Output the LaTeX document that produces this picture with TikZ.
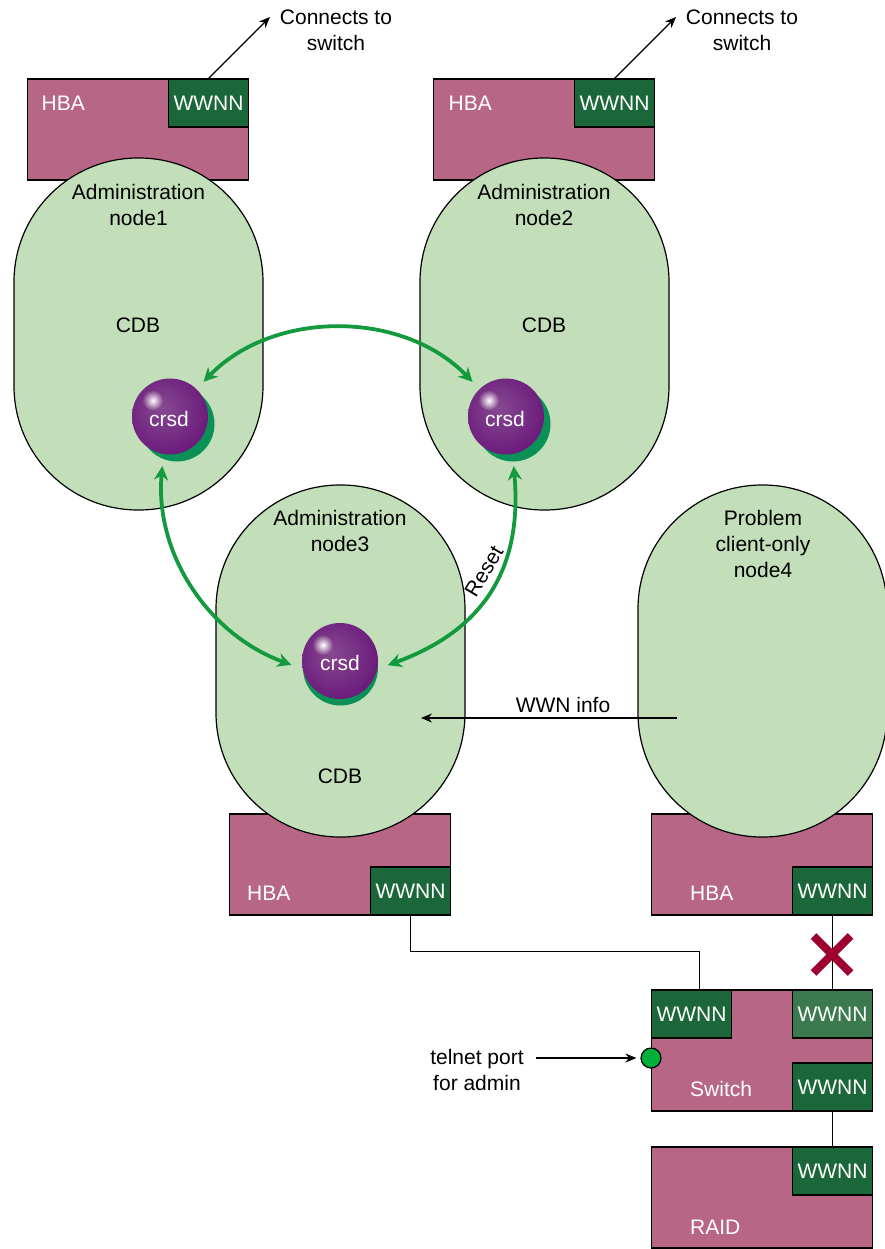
\documentclass[tikz,border=0pt]{standalone}
\usepackage{fontspec}
\setmainfont{Liberation Sans}
\usetikzlibrary{shapes.misc, arrows.meta}
\definecolor{hbapink}{HTML}{B86685}
\definecolor{wwnngreen}{HTML}{1B673A}
\definecolor{wwnnfaded}{HTML}{3B7A4F}
\definecolor{capsulegreen}{HTML}{C2DFBA}
\definecolor{arcgreen}{HTML}{149A3E}
\definecolor{shadowgreen}{HTML}{0B9058}
\definecolor{crossred}{HTML}{A00030}
\definecolor{portgreen}{HTML}{00AE3A}
\definecolor{glintedge}{rgb}{.50,.25,.54}
\pgfdeclareradialshading{crsdsphere}{\pgfpoint{-6bp}{6bp}}{rgb(0bp)=(.53,.29,.57); rgb(26bp)=(.43,.12,.49); rgb(43bp)=(.35,.01,.41); rgb(50bp)=(.50,.18,.54)}
\tikzstyle{capsule} = [rectangle, rounded corners=124pt, minimum width=249pt, minimum height=352pt, draw=black, line width=1.2pt, fill=capsulegreen, inner sep=0pt]
\tikzstyle{hbabox} = [rectangle, minimum width=221pt, minimum height=101pt, draw=black, line width=1.2pt, fill=hbapink, inner sep=0pt]
\tikzstyle{switchbox} = [hbabox, minimum height=121pt]
\tikzstyle{wwnnbox} = [rectangle, minimum width=80pt, minimum height=48pt, draw=black, line width=1.2pt, fill=wwnngreen, text=white, inner sep=0pt]
\tikzstyle{boxlabel} = [text=white, inner sep=0pt, anchor=west]
\tikzstyle{plainlabel} = [inner sep=0pt, align=center]
\tikzstyle{crsdball} = [circle, minimum size=76pt, inner sep=0pt, shading=crsdsphere, text=white]
\tikzstyle{crsdshadow} = [circle, minimum size=75pt, inner sep=0pt, fill=shadowgreen]
\tikzstyle{crsdglint} = [circle, minimum size=20pt, inner sep=0pt, inner color=white, outer color=glintedge]
\tikzstyle{arc} = [line width=3.8pt, {Stealth[length=14pt,width=14pt]}-{Stealth[length=14pt,width=14pt]}, arcgreen]
\tikzstyle{arrow} = [line width=1.2pt, -{Stealth[length=11pt,width=9pt]}]
\tikzstyle{wire} = [line width=1.2pt]
\begin{document}
\begin{tikzpicture}[x=1pt,y=1pt,node distance=200pt,every node/.style={font=\fontsize{21}{26}\selectfont}]
    \useasboundingbox (0,0) rectangle (884,-1249);

    \node (hba1) [hbabox] at (138,-129.5) {};
    \node (hba2) [hbabox, right of=hba1, xshift=206pt] {};
    \node (hba3) [hbabox] at (340,-864.5) {};
    \node (hba4) [hbabox, right of=hba3, xshift=222pt] {};
    \node (switch) [switchbox] at (762,-1050.5) {};
    \node (raid) [hbabox] at (762,-1197.5) {};

    \node (wwnn1) [wwnnbox, anchor=north east] at (hba1.north east) {WWNN};
    \node (wwnn2) [wwnnbox, anchor=north east] at (hba2.north east) {WWNN};
    \node (wwnn3) [wwnnbox, anchor=south east] at (hba3.south east) {WWNN};
    \node (wwnn4) [wwnnbox, anchor=south east] at (hba4.south east) {WWNN};
    \node (wwnnleft) [wwnnbox, anchor=north west] at (switch.north west) {WWNN};
    \node (wwnntop) [wwnnbox, anchor=north east, fill=wwnnfaded] at (switch.north east) {WWNN};
    \node (wwnnlow) [wwnnbox, anchor=south east] at (switch.south east) {WWNN};
    \node (wwnnraid) [wwnnbox, anchor=north east] at (raid.north east) {WWNN};

    \node (hbatext1) [boxlabel] at (41.5,-103) {HBA};
    \node (hbatext2) [boxlabel] at (448.5,-103) {HBA};
    \node (hbatext3) [boxlabel] at (247,-893) {HBA};
    \node (hbatext4) [boxlabel] at (690,-893) {HBA};
    \node (switchtext) [boxlabel] at (690,-1089) {Switch};
    \node (raidtext) [boxlabel] at (690,-1227) {RAID};

    \node (node1) [capsule] at (138.5,-334) {};
    \node (node2) [capsule, right of=node1, xshift=206pt] {};
    \node (node3) [capsule] at (340.5,-661) {};
    \node (node4) [capsule, right of=node3, xshift=222pt] {};

    \node (admin1) [plainlabel] at (138.5,-205) {Administration\\node1};
    \node (admin2) [plainlabel] at (544,-205) {Administration\\node2};
    \node (admin3) [plainlabel] at (340,-531) {Administration\\node3};
    \node (problem) [plainlabel] at (763,-544) {Problem\\client-only\\node4};
    \node (cdb1) [plainlabel] at (138,-325) {CDB};
    \node (cdb2) [plainlabel] at (544,-325) {CDB};
    \node (cdb3) [plainlabel] at (340,-776) {CDB};

    \node (shadow1) [crsdshadow] at (177,-424) {};
    \node (shadow2) [crsdshadow] at (513,-424) {};
    \node (shadow3) [crsdshadow] at (340.5,-668) {};
    \node (crsd1) [crsdball] at (170,-416.5) {};
    \node (crsd2) [crsdball] at (506,-416.5) {};
    \node (crsd3) [crsdball] at (340,-661) {};
    \node (glint1) [crsdglint] at ([xshift=-17pt,yshift=16pt]crsd1.center) {};
    \node (glint2) [crsdglint] at ([xshift=-17pt,yshift=16pt]crsd2.center) {};
    \node (glint3) [crsdglint] at ([xshift=-17pt,yshift=16pt]crsd3.center) {};
    \node (crsdtext1) [plainlabel, text=white] at ([xshift=-1pt,yshift=-2pt]crsd1.center) {crsd};
    \node (crsdtext2) [plainlabel, text=white] at ([xshift=-1pt,yshift=-2pt]crsd2.center) {crsd};
    \node (crsdtext3) [plainlabel, text=white] at ([yshift=-2pt]crsd3.center) {crsd};

    \draw [arc, shorten <=10pt, shorten >=10pt] (crsd1.46) to[out=46,in=134] (crsd2.134);
    \draw [arc, shorten <=12pt, shorten >=12pt] (crsd1.-100) to[out=-95,in=160] (crsd3.192);
    \draw [arc, shorten <=12pt, shorten >=11pt] (crsd2.-80) to[out=-85,in=20,looseness=1.15] (crsd3.-12);
    \node (reset) [plainlabel, rotate=59] at (484,-571) {Reset};

    \node (connects1) [plainlabel] at (336,-30) {Connects to\\switch};
    \node (connects2) [plainlabel] at (742,-30) {Connects to\\switch};
    \coordinate (tip1) at (270,-17);
    \coordinate (tip2) at (676,-17);
    \draw [arrow] (wwnn1.north) -- (tip1);
    \draw [arrow] (wwnn2.north) -- (tip2);

    \coordinate (wwnstart) at (677,-718);
    \coordinate (wwnend) at (421,-718);
    \draw [arrow] (wwnstart) -- node[anchor=south, inner sep=5pt, xshift=14pt] {WWN info} (wwnend);

    \draw [wire] (wwnn3.south) -- ++(0,-36) -| ([xshift=8pt]wwnnleft.north);
    \draw [wire] (wwnn4.south) -- (wwnntop.north);
    \draw [wire] (wwnnlow.south) -- (wwnnraid.north);
    \node (blocked) [cross out, draw=crossred, line width=8pt, minimum size=37pt, inner sep=0pt, outer sep=0pt] at (832,-954.5) {};

    \node (telnet) [plainlabel] at (477,-1070) {telnet port\\for admin};
    \node (port) [circle, minimum size=20pt, inner sep=0pt, draw=black, line width=1.2pt, fill=portgreen] at (651,-1058) {};
    \coordinate (telnetstart) at (536,-1058);
    \draw [arrow, shorten >=4pt] (telnetstart) -- (port);
\end{tikzpicture}
\end{document}
